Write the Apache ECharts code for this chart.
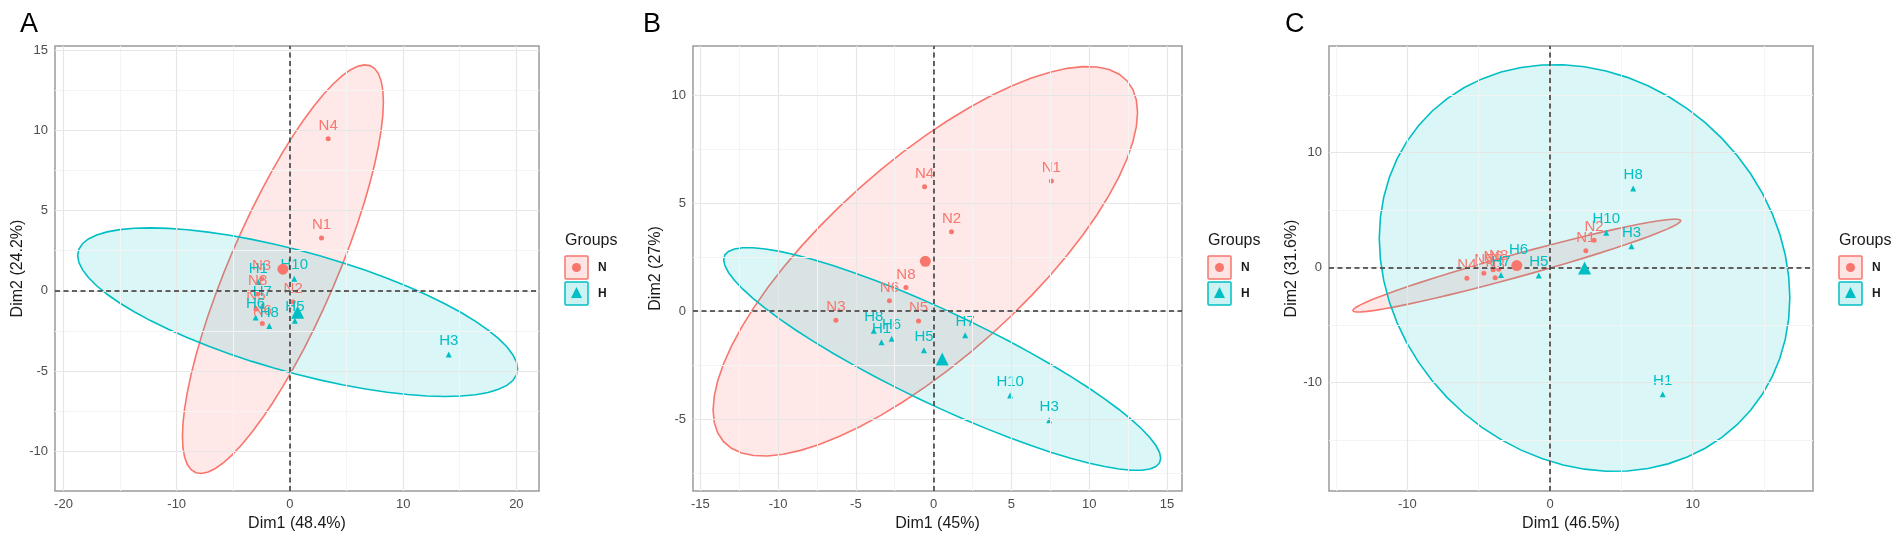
<!DOCTYPE html>
<html>
<head>
<meta charset="utf-8">
<title>PCA individuals</title>
<script src="https://cdn.jsdelivr.net/npm/echarts@6.0.0/dist/echarts.min.js"></script>
<style>
  html, body { margin: 0; padding: 0; background: #fff; }
  #chart { width: 1902px; height: 542px; }
</style>
</head>
<body>
<div id="chart"></div>
<script>
    // sample labels
    var namesN = ['N1', 'N2', 'N3', 'N4', 'N5', 'N6', 'N8'];
    var namesH = ['H1', 'H3', 'H5', 'H6', 'H7', 'H8', 'H10'];

    // panel A coordinates
    var aNdim1 = [2.79, 0.29, -2.50, 3.38, -3.00, -2.44, -2.85];
    var aNdim2 = [3.29, -0.69, 0.75, 9.48, -1.14, -2.04, -0.20];
    var aHdim1 = [-2.80, 14.03, 0.44, -3.03, -2.44, -1.82, 0.38];
    var aHdim2 = [0.55, -3.96, -1.87, -1.66, -0.93, -2.19, 0.75];

    // panel B coordinates
    var bNdim1 = [7.57, 1.15, -6.28, -0.58, -0.97, -2.84, -1.78];
    var bNdim2 = [6.02, 3.67, -0.42, 5.75, -0.46, 0.48, 1.09];
    var bHdim1 = [-3.35, 7.43, -0.62, -2.70, 2.03, -3.85, 4.92];
    var bHdim2 = [-1.44, -5.06, -1.81, -1.28, -1.12, -0.91, -3.91];

    // panel C coordinates
    var cNdim1 = [2.51, 3.09, -3.85, -5.83, -4.64, -3.99, -3.60];
    var cNdim2 = [1.44, 2.35, -0.90, -0.96, -0.51, -0.21, -0.16];
    var cHdim1 = [7.90, 5.71, -0.79, -2.21, -3.44, 5.83, 3.94];
    var cHdim2 = [-11.04, 1.83, -0.72, 0.30, -0.66, 6.86, 3.01];

    // axes
    var xTitles = ['Dim1 (48.4%)', 'Dim1 (45%)', 'Dim1 (46.5%)'];
    var yTitles = ['Dim2 (24.2%)', 'Dim2 (27%)', 'Dim2 (31.6%)'];
    var xTicksA = [-20, -10, 0, 10, 20];
    var yTicksA = [-10, -5, 0, 5, 10, 15];
    var xTicksB = [-15, -10, -5, 0, 5, 10, 15];
    var yTicksB = [-5, 0, 5, 10];
    var xTicksC = [-10, 0, 10];
    var yTicksC = [-10, 0, 10];
    var xRangeA = [-20.75, 22.0], yRangeA = [-12.47, 15.25];
    var xRangeB = [-15.47, 15.97], yRangeB = [-8.33, 12.27];
    var xRangeC = [-15.5, 18.44], yRangeC = [-19.45, 19.24];

    var colN = '#F8766D', colH = '#00BFC4';
    var font = '"Liberation Sans", Arial, sans-serif';

    var panels = [
        {letter: 'A', nx: aNdim1, ny: aNdim2, hx: aHdim1, hy: aHdim2, xr: xRangeA, yr: yRangeA, xt: xTicksA, yt: yTicksA, left: 55, width: 484, letterX: 20},
        {letter: 'B', nx: bNdim1, ny: bNdim2, hx: bHdim1, hy: bHdim2, xr: xRangeB, yr: yRangeB, xt: xTicksB, yt: yTicksB, left: 693, width: 489, letterX: 643},
        {letter: 'C', nx: cNdim1, ny: cNdim2, hx: cHdim1, hy: cHdim2, xr: xRangeC, yr: yRangeC, xt: xTicksC, yt: yTicksC, left: 1329, width: 484, letterX: 1285}
    ];

    function mean(a) {
        var s = 0;
        for (var i = 0; i < a.length; i++) s += a[i];
        return s / a.length;
    }

    // 95% normal data ellipse, same recipe as stat_ellipse(type = "norm")
    function ellipse(xs, ys) {
        var n = xs.length, mx = mean(xs), my = mean(ys);
        var sxx = 0, syy = 0, sxy = 0;
        for (var i = 0; i < n; i++) {
            sxx += (xs[i] - mx) * (xs[i] - mx);
            syy += (ys[i] - my) * (ys[i] - my);
            sxy += (xs[i] - mx) * (ys[i] - my);
        }
        sxx /= n - 1; syy /= n - 1; sxy /= n - 1;
        var df2 = n - 1;
        var f = df2 / 2 * (Math.pow(0.05, -2 / df2) - 1);
        var r = Math.sqrt(2 * f);
        var a = Math.sqrt(sxx), b = sxy / a, c = Math.sqrt(syy - b * b);
        var pts = [];
        for (var k = 0; k <= 60; k++) {
            var t = 2 * Math.PI * k / 60;
            var ux = Math.cos(t), uy = Math.sin(t);
            pts.push([mx + r * a * ux, my + r * (b * ux + c * uy)]);
        }
        return pts;
    }

    function minorOf(ticks, range) {
        var step = ticks[1] - ticks[0], out = [];
        for (var v = ticks[0] - step / 2; v <= ticks[ticks.length - 1] + step; v += step) {
            if (v > range[0] && v < range[1]) out.push(v);
        }
        return out;
    }

    function points(xs, ys, names) {
        return xs.map(function (x, i) {
            return {value: [x, ys[i]], name: names[i]};
        });
    }

    var grids = [], xAxes = [], yAxes = [], series = [], graphics = [];

    panels.forEach(function (p, i) {
        grids.push({
            left: p.left, top: 46, width: p.width, height: 445,
            show: true, backgroundColor: '#fff', borderColor: '#9a9a9a', borderWidth: 1.5
        });
        xAxes.push({
            gridIndex: i, type: 'value', min: p.xr[0], max: p.xr[1],
            name: xTitles[i], nameLocation: 'middle', nameGap: 23,
            nameTextStyle: {fontSize: 16, color: '#1a1a1a', fontFamily: font},
            axisLine: {show: false},
            axisTick: {show: true, length: 4, customValues: p.xt, lineStyle: {color: '#444', width: 1}},
            axisLabel: {customValues: p.xt, margin: 7, fontSize: 13, color: '#4d4d4d', fontFamily: font},
            splitLine: {show: false}
        });
        yAxes.push({
            gridIndex: i, type: 'value', min: p.yr[0], max: p.yr[1],
            name: yTitles[i], nameLocation: 'middle', nameGap: 29, nameRotate: 90,
            nameTextStyle: {fontSize: 16, color: '#1a1a1a', fontFamily: font},
            axisLine: {show: false},
            axisTick: {show: true, length: 4, customValues: p.yt, lineStyle: {color: '#444', width: 1}},
            axisLabel: {customValues: p.yt, margin: 7, fontSize: 13, color: '#4d4d4d', fontFamily: font},
            splitLine: {show: false}
        });

        // background grid
        var gl = [];
        minorOf(p.xt, p.xr).forEach(function (v) { gl.push({xAxis: v, lineStyle: {color: '#f4f4f4', width: 1, type: 'solid'}}); });
        minorOf(p.yt, p.yr).forEach(function (v) { gl.push({yAxis: v, lineStyle: {color: '#f4f4f4', width: 1, type: 'solid'}}); });
        p.xt.forEach(function (v) { gl.push({xAxis: v, lineStyle: {color: '#e6e6e6', width: 1.2, type: 'solid'}}); });
        p.yt.forEach(function (v) { gl.push({yAxis: v, lineStyle: {color: '#e6e6e6', width: 1.2, type: 'solid'}}); });
        series.push({
            type: 'scatter', xAxisIndex: i, yAxisIndex: i, data: [], z: 1, silent: true,
            markLine: {silent: true, symbol: 'none', label: {show: false}, animation: false, data: gl}
        });

        // ellipses
        [[p.nx, p.ny, colN, 'rgba(248,118,109,0.16)'], [p.hx, p.hy, colH, 'rgba(0,191,196,0.14)']].forEach(function (g) {
            var ell = ellipse(g[0], g[1]);
            series.push({
                type: 'custom', xAxisIndex: i, yAxisIndex: i, z: 2, silent: true,
                data: [[mean(g[0]), mean(g[1])]],
                renderItem: function (params, api) {
                    return {
                        type: 'polygon',
                        shape: {points: ell.map(function (q) { return api.coord(q); })},
                        style: {fill: g[3], stroke: g[2], lineWidth: 1.6}
                    };
                }
            });
        });

        // zero lines
        series.push({
            type: 'scatter', xAxisIndex: i, yAxisIndex: i, data: [], z: 3, silent: true,
            markLine: {
                silent: true, symbol: 'none', label: {show: false}, animation: false,
                lineStyle: {color: '#333', width: 1.5, type: [5, 3.5]},
                data: [{xAxis: 0}, {yAxis: 0}]
            }
        });

        // individuals
        series.push({
            type: 'scatter', xAxisIndex: i, yAxisIndex: i, z: 4, silent: true,
            symbol: 'circle', symbolSize: 5, itemStyle: {color: colN, opacity: 1},
            label: {show: true, position: 'top', distance: 3, formatter: '{b}', color: colN, fontSize: 15, fontFamily: font},
            data: points(p.nx, p.ny, namesN)
        });
        series.push({
            type: 'scatter', xAxisIndex: i, yAxisIndex: i, z: 4, silent: true,
            symbol: 'triangle', symbolSize: 6, itemStyle: {color: colH, opacity: 1},
            label: {show: true, position: 'top', distance: 3, formatter: '{b}', color: colH, fontSize: 15, fontFamily: font},
            data: points(p.hx, p.hy, namesH)
        });

        // group means
        series.push({
            type: 'scatter', xAxisIndex: i, yAxisIndex: i, z: 5, silent: true,
            symbol: 'circle', symbolSize: 11, itemStyle: {color: colN, opacity: 1},
            data: [[mean(p.nx), mean(p.ny)]]
        });
        series.push({
            type: 'scatter', xAxisIndex: i, yAxisIndex: i, z: 5, silent: true,
            symbol: 'triangle', symbolSize: 13, itemStyle: {color: colH, opacity: 1},
            data: [[mean(p.hx), mean(p.hy)]]
        });

        // panel letter
        graphics.push({
            type: 'text', left: p.letterX, top: 11,
            style: {text: p.letter, font: '27px ' + font, fill: '#000'}
        });

        // legend
        var L = p.left + p.width + 26;
        graphics.push({type: 'text', x: L, y: 241, style: {text: 'Groups', font: '16px ' + font, fill: '#1a1a1a', textVerticalAlign: 'middle'}});
        graphics.push({type: 'rect', x: L, y: 256, shape: {width: 23, height: 23, r: 1}, style: {fill: 'rgba(248,118,109,0.2)', stroke: colN, lineWidth: 1.5}});
        graphics.push({type: 'circle', shape: {cx: L + 11.5, cy: 267.5, r: 4.5}, style: {fill: colN}});
        graphics.push({type: 'text', x: L + 33, y: 268, style: {text: 'N', font: 'bold 12px ' + font, fill: '#1a1a1a', textVerticalAlign: 'middle'}});
        graphics.push({type: 'rect', x: L, y: 282, shape: {width: 23, height: 23, r: 1}, style: {fill: 'rgba(0,191,196,0.2)', stroke: colH, lineWidth: 1.5}});
        graphics.push({type: 'polygon', shape: {points: [[L + 11.5, 287], [L + 6, 298], [L + 17, 298]]}, style: {fill: colH}});
        graphics.push({type: 'text', x: L + 33, y: 294, style: {text: 'H', font: 'bold 12px ' + font, fill: '#1a1a1a', textVerticalAlign: 'middle'}});
    });

    var chart = echarts.init(document.getElementById('chart'), null, {renderer: 'canvas'});
    chart.setOption({
        animation: false,
        backgroundColor: '#fff',
        grid: grids,
        xAxis: xAxes,
        yAxis: yAxes,
        series: series,
        graphic: graphics
    });
</script>
</body>
</html>
